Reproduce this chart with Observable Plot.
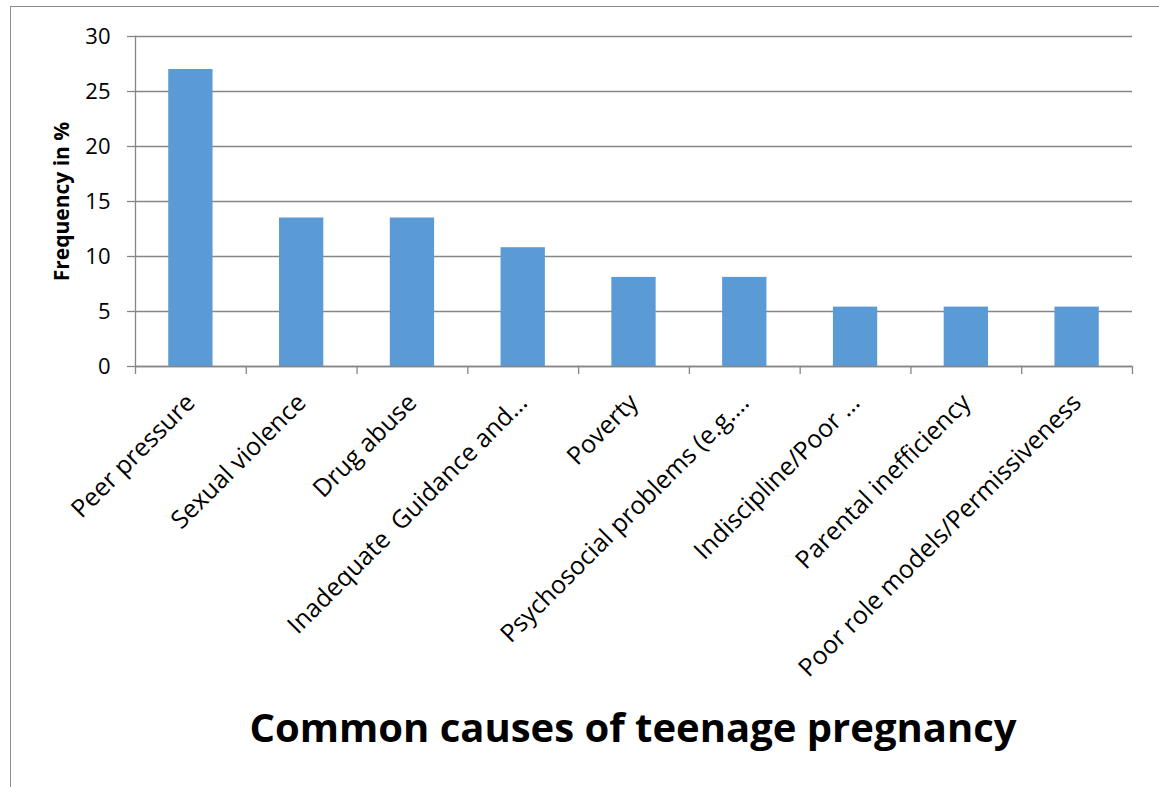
<!DOCTYPE html>
<html><head><meta charset="utf-8">
<script src="https://cdn.jsdelivr.net/npm/d3@7"></script>
<script src="https://cdn.jsdelivr.net/npm/@observablehq/plot@0.6"></script>
<style>
body{margin:0;background:#fff;}
#wrap{position:relative;width:1159px;height:787px;overflow:hidden;background:#fff;}
#frame{position:absolute;left:10px;top:6px;width:1300px;height:1000px;border:1.5px solid #8c8c8c;box-sizing:border-box;}
#chart{position:absolute;left:0;top:0;}
#title{position:absolute;left:0;width:1266px;top:707px;text-align:center;font-family:"Open Sans",sans-serif;font-weight:bold;font-size:40px;line-height:1;color:#000;white-space:nowrap;}
</style></head>
<body>
<div id="wrap"><div id="frame"></div><div id="chart"></div><div id="title">Common causes of teenage pregnancy</div></div>
<script>
const categories = ["Peer pressure","Sexual violence","Drug abuse","Inadequate  Guidance and…","Poverty","Psychosocial problems (e.g.…","Indiscipline/Poor …","Parental inefficiency","Poor role models/Permissiveness"];
const values = [27,13.5,13.5,10.8,8.1,8.1,5.4,5.4,5.4];
const yTicks = [0,5,10,15,20,25,30];
const yTitle = "Frequency in %";

const data = categories.map((c,i)=>({cause:c, value:values[i]}));
const W=1159,H=787,mL=135,mR=27,mT=36,mB=787-366;
const step=(W-mL-mR)/categories.length;
const grey="#868686";
const chart = Plot.plot({
  width:W,height:H,marginLeft:mL,marginRight:mR,marginTop:mT,marginBottom:mB,
  style:{fontFamily:"'Open Sans',sans-serif",background:"transparent",color:"#000"},
  x:{domain:categories,paddingInner:0.6,paddingOuter:0.3,round:false,label:null,axis:null},
  y:{domain:[0,30],label:null,axis:null},
  marks:[
    Plot.gridY(yTicks,{stroke:grey,strokeOpacity:1,strokeWidth:1.3}),
    Plot.axisY(yTicks,{tickSize:8,text:null,stroke:grey,strokeWidth:1.3}),
    Plot.axisY(yTicks,{tickSize:8,tickPadding:17,stroke:"none",fontSize:22,fill:"#000"}),
    Plot.barY(data,{x:"cause",y:"value",fill:"#5b9bd5"}),
    Plot.ruleY([0],{stroke:grey,strokeWidth:1.3}),
    Plot.frame({anchor:"left",stroke:grey,strokeWidth:1.3}),
    Plot.axisX({tickSize:8,text:null,dx:-step/2,stroke:grey,strokeWidth:1.3}),
    Plot.axisX([categories[categories.length-1]],{tickSize:8,text:null,dx:step/2,stroke:grey,strokeWidth:1.3}),
    Plot.axisX({tickSize:0,tickRotate:-45,tickPadding:32,fontSize:25,fill:"#000",label:null}),
    Plot.text([yTitle],{frameAnchor:"left",textAnchor:"middle",dx:-73,rotate:-90,fontWeight:"bold",fontSize:21,fill:"#000"})
  ]
});
document.getElementById("chart").appendChild(chart);
</script>
</body></html>
